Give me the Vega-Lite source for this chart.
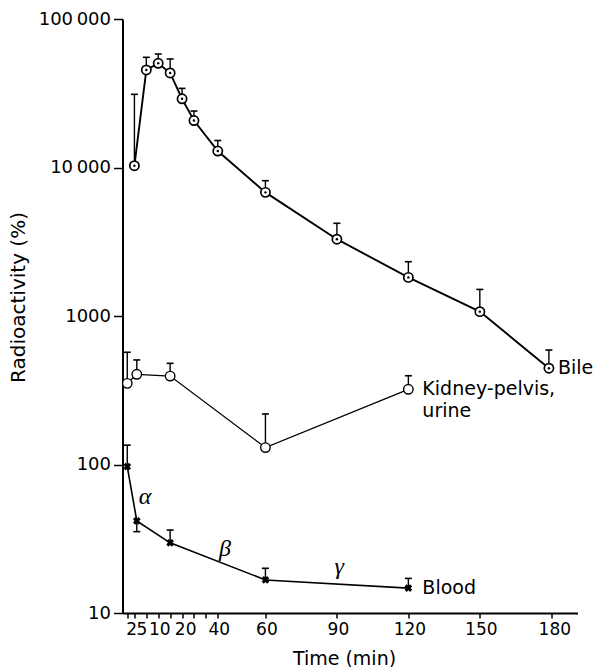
{
  "$schema": "https://vega.github.io/schema/vega-lite/v6.json",
  "width": 455,
  "height": 594,
  "autosize": {"type": "none"},
  "padding": {"left": 122.5, "top": 19, "right": 17.5, "bottom": 54},
  "background": "white",
  "config": {
    "view": {"stroke": null},
    "font": "DejaVu Sans",
    "axis": {
      "grid": false,
      "domainColor": "#000",
      "domainWidth": 2,
      "tickColor": "#000",
      "tickWidth": 1.5,
      "labelColor": "#000",
      "titleColor": "#000",
      "labelFont": "DejaVu Sans",
      "titleFont": "DejaVu Sans",
      "titleFontWeight": "normal",
      "labelOverlap": false
    },
    "axisX": {"labelOverlap": false}
  },
  "datasets": {
    "pts": [
      {"series": "Bile", "t": 5, "v": 10280, "err": 31100},
      {"series": "Bile", "t": 10, "v": 45400, "err": 55200},
      {"series": "Bile", "t": 15, "v": 50300, "err": 58100},
      {"series": "Bile", "t": 20, "v": 43300, "err": 53800},
      {"series": "Bile", "t": 25, "v": 29000, "err": 34100},
      {"series": "Bile", "t": 30, "v": 20700, "err": 24000},
      {"series": "Bile", "t": 40, "v": 12900, "err": 15200},
      {"series": "Bile", "t": 60, "v": 6800, "err": 8150},
      {"series": "Bile", "t": 90, "v": 3290, "err": 4210},
      {"series": "Bile", "t": 120, "v": 1820, "err": 2320},
      {"series": "Bile", "t": 150, "v": 1070, "err": 1510},
      {"series": "Bile", "t": 179, "v": 445, "err": 590},
      {"series": "Kidney", "t": 2, "v": 352, "err": 570},
      {"series": "Kidney", "t": 6, "v": 405, "err": 506},
      {"series": "Kidney", "t": 20, "v": 394, "err": 480},
      {"series": "Kidney", "t": 60, "v": 130, "err": 219},
      {"series": "Kidney", "t": 120, "v": 321, "err": 396},
      {"series": "Blood", "t": 2, "v": 96.7, "err": 135},
      {"series": "Blood", "t": 6, "v": 41.7, "err": 35.3},
      {"series": "Blood", "t": 20, "v": 29.7, "err": 36.2},
      {"series": "Blood", "t": 60, "v": 16.7, "err": 20.0},
      {"series": "Blood", "t": 120, "v": 14.7, "err": 17.1}
    ],
    "notes": [
      {"kind": "bile", "t": 179, "v": 445, "label": "Bile"},
      {"kind": "name", "t": 120, "v": 321, "label": "Kidney-pelvis,"},
      {"kind": "name2", "t": 120, "v": 321, "label": "urine"},
      {"kind": "name", "t": 120, "v": 14.7, "label": "Blood"},
      {"kind": "greek", "t": 9.5, "v": 60.4, "label": "α"},
      {"kind": "greek", "t": 43, "v": 27, "label": "β"},
      {"kind": "greek", "t": 91, "v": 20.5, "label": "γ"}
    ]
  },
  "encoding": {
    "x": {
      "field": "t", "type": "quantitative",
      "scale": {"domain": [0, 191], "nice": false, "zero": false},
      "axis": {
        "title": "Time (min)",
        "titleFontSize": 19,
        "labelFontSize": 17,
        "values": [2, 5, 10, 15, 20, 25, 30, 35, 40, 60, 90, 120, 150, 180],
        "labelExpr": "indexof([2,5,10,20,40,60,90,120,150,180], datum.value) >= 0 ? datum.label : ''",
        "labelOffset": {"condition": [
          {"test": "datum.value == 2", "value": 4},
          {"test": "datum.value == 5", "value": 7},
          {"test": "datum.value == 10", "value": 13},
          {"test": "datum.value == 20", "value": 15},
          {"test": "datum.value == 180", "value": 3}
        ], "value": 1},
        "labelOverlap": false,
        "labelFlush": false,
        "labelBound": false,
        "tickSize": 5,
        "labelPadding": 3,
        "titleX": 221.5,
        "titleY": 45,
        "titleBaseline": "middle",
        "titleAlign": "center"
      }
    },
    "y": {
      "field": "v", "type": "quantitative",
      "scale": {"type": "log", "domain": [10, 100000], "nice": false},
      "axis": {
        "title": "Radioactivity (%)",
        "titleFontSize": 20,
        "labelFontSize": 18,
        "values": [10, 100, 1000, 10000, 100000],
        "labelExpr": "datum.value == 100000 ? '100\u2009000' : datum.value == 10000 ? '10\u2009000' : format(datum.value, 'd')",
        "tickSize": 9,
        "labelPadding": 3,
        "labelFlush": false,
        "labelOverlap": false,
        "titleAngle": -90,
        "titleX": -104.5,
        "titleY": 278,
        "titleAlign": "center",
        "titleBaseline": "middle"
      }
    }
  },
  "layer": [
    {
      "transform": [{"filter": "datum.series == 'Bile'"}],
      "data": {"name": "pts"},
      "mark": {"type": "line", "color": "#000", "strokeWidth": 1.9}
    },
    {
      "data": {"name": "pts"},
      "transform": [{"filter": "datum.series == 'Kidney'"}],
      "mark": {"type": "line", "color": "#000", "strokeWidth": 1.3}
    },
    {
      "data": {"name": "pts"},
      "transform": [{"filter": "datum.series == 'Blood'"}],
      "mark": {"type": "line", "color": "#000", "strokeWidth": 1.6}
    },
    {
      "data": {"name": "pts"},
      "mark": {"type": "rule", "color": "#000", "strokeWidth": 1.4},
      "encoding": {"y2": {"field": "err"}}
    },
    {
      "data": {"name": "pts"},
      "mark": {"type": "tick", "orient": "horizontal", "color": "#000", "size": 7, "thickness": 1.6, "opacity": 1},
      "encoding": {
        "y": {
          "field": "err", "type": "quantitative",
          "axis": {
            "title": "Radioactivity (%)",
            "titleFontSize": 20,
            "labelFontSize": 18,
            "values": [10, 100, 1000, 10000, 100000],
            "labelExpr": "datum.value == 100000 ? '100\u2009000' : datum.value == 10000 ? '10\u2009000' : format(datum.value, 'd')",
            "tickSize": 9,
            "labelPadding": 3,
            "labelFlush": false,
            "labelOverlap": false,
            "titleAngle": -90,
            "titleX": -104.5,
            "titleY": 278,
            "titleAlign": "center",
            "titleBaseline": "middle"
          }
        }
      }
    },
    {
      "data": {"name": "pts"},
      "transform": [{"filter": "datum.series == 'Bile'"}],
      "mark": {"type": "point", "shape": "circle", "filled": true, "fill": "white", "stroke": "#000", "strokeWidth": 1.7, "size": 85, "opacity": 1}
    },
    {
      "data": {"name": "pts"},
      "transform": [{"filter": "datum.series == 'Bile'"}],
      "mark": {"type": "point", "shape": "circle", "filled": true, "color": "#000", "size": 6, "opacity": 1}
    },
    {
      "data": {"name": "pts"},
      "transform": [{"filter": "datum.series == 'Kidney'"}],
      "mark": {"type": "point", "shape": "circle", "filled": true, "fill": "white", "stroke": "#000", "strokeWidth": 1.4, "size": 90, "opacity": 1}
    },
    {
      "data": {"name": "pts"},
      "transform": [{"filter": "datum.series == 'Blood'"}],
      "mark": {"type": "point", "shape": "cross", "angle": 45, "filled": true, "color": "#000", "size": 60, "opacity": 1}
    },
    {
      "data": {"name": "notes"},
      "transform": [{"filter": "datum.kind == 'bile'"}],
      "mark": {"type": "text", "align": "left", "baseline": "middle", "dx": 9, "fontSize": 19, "color": "#000", "font": "DejaVu Sans"},
      "encoding": {"text": {"field": "label"}}
    },
    {
      "data": {"name": "notes"},
      "transform": [{"filter": "datum.kind == 'name'"}],
      "mark": {"type": "text", "align": "left", "baseline": "middle", "dx": 14, "fontSize": 19, "color": "#000", "font": "DejaVu Sans"},
      "encoding": {"text": {"field": "label"}}
    },
    {
      "data": {"name": "notes"},
      "transform": [{"filter": "datum.kind == 'name2'"}],
      "mark": {"type": "text", "align": "left", "baseline": "middle", "dx": 14, "dy": 22, "fontSize": 19, "color": "#000", "font": "DejaVu Sans"},
      "encoding": {"text": {"field": "label"}}
    },
    {
      "data": {"name": "notes"},
      "transform": [{"filter": "datum.kind == 'greek'"}],
      "mark": {"type": "text", "align": "center", "baseline": "middle", "fontSize": 24, "fontStyle": "italic", "color": "#000", "font": "Liberation Serif"},
      "encoding": {"text": {"field": "label"}}
    }
  ]
}
